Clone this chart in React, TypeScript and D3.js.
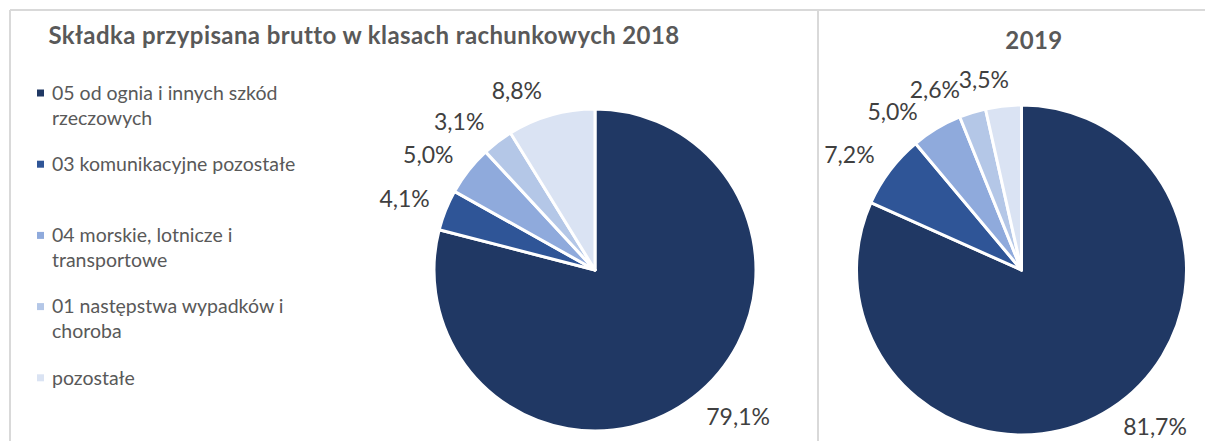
import React from 'react';
import * as d3 from 'd3';

const categories = [
  '05 od ognia i innych szkód rzeczowych',
  '03 komunikacyjne pozostałe',
  '04 morskie, lotnicze i transportowe',
  '01 następstwa wypadków i choroba',
  'pozostałe',
];
const legendLines = [
  ['05 od ognia i innych szkód', 'rzeczowych'],
  ['03 komunikacyjne pozostałe'],
  ['04 morskie, lotnicze i', 'transportowe'],
  ['01 następstwa wypadków i', 'choroba'],
  ['pozostałe'],
];
const values2018 = [79.1, 4.1, 5.0, 3.1, 8.8];
const values2019 = [81.7, 7.2, 5.0, 2.6, 3.5];
const colors = ['#203864', '#2F5597', '#8FAADC', '#B4C7E7', '#DAE3F3'];
const title2018 = 'Składka przypisana brutto w klasach rachunkowych 2018';
const title2019 = '2019';

const W = 1205;
const H = 441;
const FONT = 'Lato, "Open Sans", sans-serif';
const LABEL_SIZE = 23;
const DEG = Math.PI / 180;

const fmt = (v: number) => v.toFixed(1).replace('.', ',') + '%';
const clamp1 = (v: number) => Math.max(-1, Math.min(1, v));

type Lbl = { x: number; y: number; text: string; w: number; h: number };

function placeLabels(values: number[], cx: number, cy: number, r: number): Lbl[] {
  const arcs = d3.pie<number>().sort(null).value((d) => d)(values);
  const gap = 16;
  const shift = -2 * DEG;
  const h = 22;
  const res: Lbl[] = new Array(values.length);
  // the box corner nearest to the pie sits on the ray at r + gap
  const make = (a: number, text: string, w: number): Lbl => {
    const s = Math.sin(a);
    const c = Math.cos(a);
    const ax = cx + (r + gap) * s;
    const ay = cy - (r + gap) * c;
    const y = ay - (clamp1(c / 0.3) * h) / 2;
    return {
      x: ax + (clamp1(s / 0.3) * w) / 2,
      y: Math.min(y, H - 14),
      text,
      w,
      h,
    };
  };
  const overlap = (a: Lbl, b: Lbl) =>
    Math.abs(a.x - b.x) < (a.w + b.w) / 2 && Math.abs(a.y - b.y) < (a.h + b.h) / 2;
  let prev: Lbl | null = null;
  for (let i = values.length - 1; i >= 0; i--) {
    const text = fmt(values[i]);
    const w = text.length * LABEL_SIZE * 0.52;
    let a = (arcs[i].startAngle + arcs[i].endAngle) / 2 + shift;
    let lbl = make(a, text, w);
    let guard = 0;
    while (prev && overlap(lbl, prev) && guard < 200) {
      a -= 0.5 * DEG;
      lbl = make(a, text, w);
      guard++;
    }
    res[i] = lbl;
    prev = lbl;
  }
  return res;
}

function Pie({ values, cx, cy, r }: { values: number[]; cx: number; cy: number; r: number }) {
  const arcs = d3.pie<number>().sort(null).value((d) => d)(values);
  const arcGen = d3.arc<d3.PieArcDatum<number>>().innerRadius(0).outerRadius(r);
  const labels = placeLabels(values, cx, cy, r);
  return (
    <g>
      <g transform={`translate(${cx},${cy})`}>
        {arcs.map((a, i) => (
          <path key={i} d={arcGen(a) || ''} fill={colors[i]} stroke="#ffffff" strokeWidth={3} strokeLinejoin="round" />
        ))}
      </g>
      {labels.map((l, i) => (
        <text key={i} x={l.x} y={l.y} dy="0.36em" textAnchor="middle" fontFamily={FONT} fontSize={LABEL_SIZE} fill="#404040">
          {l.text}
        </text>
      ))}
    </g>
  );
}

export default function App() {
  const legendY = d3.scaleLinear().domain([0, 1]).range([93, 164.2]);
  return (
    <svg width={W} height={H} style={{ position: 'absolute', left: 0, top: 0, background: '#ffffff' }}>
      <rect x={0} y={0} width={W} height={H} fill="#ffffff" />
      <line x1={10} y1={10} x2={W} y2={10} stroke="#d9d9d9" strokeWidth={2} />
      <line x1={10} y1={10} x2={10} y2={H} stroke="#d9d9d9" strokeWidth={2} />
      <line x1={818} y1={10} x2={818} y2={H} stroke="#d9d9d9" strokeWidth={2} />

      <text x={364} y={36} dy="0.35em" textAnchor="middle" fontFamily={FONT} fontWeight="bold" fontSize={24} letterSpacing={0.4} fill="#595959">
        {title2018}
      </text>
      <text x={1034} y={41} dy="0.35em" textAnchor="middle" fontFamily={FONT} fontWeight="bold" fontSize={24} letterSpacing={0.4} fill="#595959">
        {title2019}
      </text>

      {legendLines.map((lines, i) => (
        <g key={categories[i]}>
          <rect x={37} y={legendY(i) - 3.5} width={7} height={7} fill={colors[i]} />
          {lines.map((ln, j) => (
            <text key={j} x={52} y={legendY(i) + j * 25} dy="0.35em" fontFamily={FONT} fontSize={19.5} fill="#595959">
              {ln}
            </text>
          ))}
        </g>
      ))}

      <Pie values={values2018} cx={595} cy={270} r={161} />
      <Pie values={values2019} cx={1021.5} cy={270} r={165} />
    </svg>
  );
}
